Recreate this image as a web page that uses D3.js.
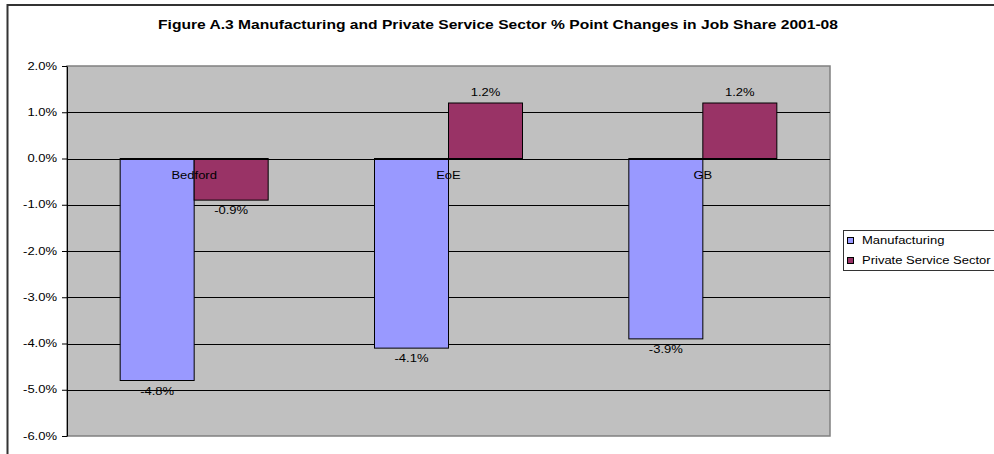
<!DOCTYPE html>
<html>
<head>
<meta charset="utf-8">
<script src="https://cdn.jsdelivr.net/npm/d3@7"></script>
<style>
  body { margin: 0; background: #fff; }
  text { font-family: Arial, "Liberation Sans", sans-serif; }
</style>
</head>
<body>
<div id="chart"></div>
<script>
// data
var categories = ["Bedford", "EoE", "GB"];
var seriesNames = ["Manufacturing", "Private Service Sector"];
var manufacturing = [-4.8, -4.1, -3.9];
var privateService = [-0.9, 1.2, 1.2];
var yTicks = [2, 1, 0, -1, -2, -3, -4, -5, -6];
var colors = ["#9999ff", "#993366"];

var W = 994, H = 454;
var margin = {top: 66, right: 164, bottom: 18, left: 67},
    width = W - margin.left - margin.right,
    height = H - margin.top - margin.bottom;

var svg = d3.select("#chart")
  .append("svg")
    .attr("width", W)
    .attr("height", H);

// outer chart border
svg.append("rect")
    .attr("x", 7.5).attr("y", 5).attr("width", W + 10).attr("height", H + 10)
    .attr("fill", "#fff").attr("stroke", "#333").attr("stroke-width", 2);

svg.append("text")
    .attr("x", 498).attr("y", 29)
    .attr("text-anchor", "middle")
    .style("font-size", "12px").style("font-weight", "bold")
    .text("Figure A.3 Manufacturing and Private Service Sector % Point Changes in Job Share 2001-08");

var g = svg.append("g")
    .attr("transform", "translate(" + margin.left + "," + margin.top + ")");

var y = d3.scaleLinear().domain([-6, 2]).range([height, 0]);
var x0 = d3.scaleBand().domain(categories).range([0, width]).paddingInner(0).paddingOuter(0);
var x1 = d3.scaleBand().domain(seriesNames).range([0, 148])

// plot area
g.append("rect")
    .attr("width", width).attr("height", height)
    .attr("fill", "#c0c0c0").attr("stroke", "#808080").attr("stroke-width", 1.5);

// gridlines
g.selectAll(".grid")
  .data(yTicks.slice(1, -1))
  .enter().append("line")
    .attr("x1", 0).attr("x2", width)
    .attr("y1", function(d) { return Math.round(y(d)) + 0.5; })
    .attr("y2", function(d) { return Math.round(y(d)) + 0.5; })
    .attr("stroke", "#000").attr("stroke-width", 1);

// y axis
var yAxis = g.append("g")
    .call(d3.axisLeft(y).tickValues(yTicks).tickSize(5).tickSizeOuter(0)
      .tickFormat(function(d) { return d.toFixed(1) + "%"; }));
yAxis.select(".domain").attr("stroke", "#000");
yAxis.selectAll("text").style("font-size", "10px").attr("fill", "#000").attr("dx", "-2");

var rows = categories.map(function(c, i) {
  return {cat: c, vals: [manufacturing[i], privateService[i]]};
});

var groups = g.selectAll(".cat")
  .data(rows)
  .enter().append("g")
    .attr("transform", function(d) {
      return "translate(" + (x0(d.cat) + x0.bandwidth() / 2 - 74) + ",0)";
    });

groups.selectAll("rect")
  .data(function(d) { return d.vals.map(function(v, j) { return {v: v, s: seriesNames[j], j: j}; }); })
  .enter().append("rect")
    .attr("x", function(d) { return x1(d.s); })
    .attr("width", x1.bandwidth())
    .attr("y", function(d) { return y(Math.max(0, d.v)); })
    .attr("height", function(d) { return Math.abs(y(d.v) - y(0)); })
    .attr("fill", function(d) { return colors[d.j]; })
    .attr("stroke", "#000").attr("stroke-width", 1);

// data labels
groups.selectAll(".lbl")
  .data(function(d) { return d.vals.map(function(v, j) { return {v: v, s: seriesNames[j]}; }); })
  .enter().append("text")
    .attr("x", function(d) { return x1(d.s) + x1.bandwidth() / 2; })
    .attr("y", function(d) { return d.v < 0 ? y(d.v) + 14 : y(d.v) - 7; })
    .attr("text-anchor", "middle")
    .style("font-size", "10px")
    .text(function(d) { return d.v.toFixed(1) + "%"; });

// category labels sit just under the zero line
g.selectAll(".catlbl")
  .data(categories)
  .enter().append("text")
    .attr("x", function(d) { return x0(d) + x0.bandwidth() / 2; })
    .attr("y", y(0) + 20)
    .attr("text-anchor", "middle")
    .style("font-size", "10px")
    .attr("fill", "#000")
    .text(function(d) { return d; });

// zero line on top
g.append("line")
    .attr("x1", 0).attr("x2", width)
    .attr("y1", Math.round(y(0)) + 0.5).attr("y2", Math.round(y(0)) + 0.5)
    .attr("stroke", "#000");

// legend
var legend = svg.append("g").attr("transform", "translate(843,230)");
legend.append("rect")
    .attr("x", 0.5).attr("y", 0.5).attr("width", 170).attr("height", 40)
    .attr("fill", "#fff").attr("stroke", "#333");
seriesNames.forEach(function(s, i) {
  legend.append("rect")
      .attr("x", 4.5).attr("y", 7.5 + i * 20).attr("width", 6).attr("height", 6)
      .attr("fill", colors[i]).attr("stroke", "#000");
  legend.append("text")
      .attr("x", 19).attr("y", 14 + i * 20)
      .style("font-size", "10px")
      .text(s);
});

// the original's text is drawn wider than plain Arial, stretch it a bit
svg.selectAll("text").each(function() {
  var w = this.getComputedTextLength();
  d3.select(this).attr("textLength", w * 1.3).attr("lengthAdjust", "spacingAndGlyphs");
});
</script>
</body>
</html>
